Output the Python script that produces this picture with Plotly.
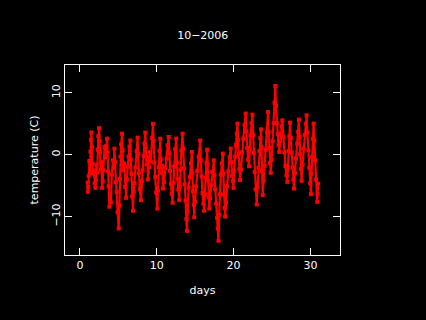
import plotly.graph_objects as go

title_text = "10\u22122006"
x_label = "days"
y_label = "temperature (C)"
x_ticks = [0, 10, 20, 30]
y_ticks = [-10, 0, 10]
y_tick_labels = ["\u221210", "0", "10"]

days = [1.0, 1.03, 1.08, 1.15, 1.22, 1.3, 1.36, 1.42, 1.47, 1.55, 1.62, 1.68, 1.8, 1.9, 2.0,
        2.08, 2.15, 2.24, 2.3, 2.38, 2.49, 2.56, 2.62, 2.7, 2.78, 2.88, 2.96, 3.05, 3.2, 3.3, 3.42, 3.53,
        3.6, 3.66, 3.72, 3.83, 3.9, 4.02, 4.15, 4.3, 4.4, 4.48, 4.56, 4.66, 4.78, 4.9, 5.04,
        5.12, 5.2, 5.28, 5.36, 5.47, 5.55, 5.63, 5.75, 5.88, 6.0, 6.1, 6.2, 6.32, 6.45, 6.56,
        6.62, 6.7, 6.8, 6.9, 7.0, 7.1, 7.22, 7.38, 7.5, 7.58, 7.66, 7.78, 7.94, 8.05, 8.15, 8.28, 8.4, 8.5,
        8.58, 8.66, 8.76, 8.85, 8.98, 9.1, 9.22, 9.36, 9.5, 9.58, 9.68, 9.8, 9.92, 10.07,
        10.15, 10.25, 10.35, 10.45, 10.52, 10.62, 10.7, 10.8, 10.95, 11.1, 11.28, 11.42, 11.54,
        11.62, 11.72, 11.84, 11.95, 12.06, 12.16, 12.26, 12.4, 12.53, 12.6, 12.7, 12.8, 12.92,
        13.0, 13.08, 13.2, 13.35, 13.42, 13.52, 13.62, 13.74, 13.85, 13.92, 14.02, 14.15, 14.3, 14.45, 14.57,
        14.63, 14.7, 14.8, 14.87, 14.98, 15.12, 15.26, 15.45, 15.65, 15.72, 15.82, 15.95, 16.06, 16.17,
        16.26, 16.36, 16.46, 16.56, 16.62, 16.7, 16.76, 16.82, 16.95, 17.08, 17.22, 17.42,
        17.5, 17.6, 17.72, 17.85, 17.95, 18.03, 18.12, 18.22, 18.34, 18.48, 18.59, 18.66, 18.74, 18.82, 18.9,
        19.02, 19.14, 19.3, 19.48, 19.63, 19.7, 19.8, 19.9, 19.98, 20.08, 20.2, 20.32, 20.42, 20.5,
        20.58, 20.66, 20.75, 20.84, 20.96, 21.1, 21.26, 21.42, 21.58, 21.66, 21.76, 21.88, 22.01,
        22.1, 22.2, 22.34, 22.45, 22.54, 22.64, 22.74, 22.86, 23.01, 23.12, 23.24, 23.36, 23.48, 23.57,
        23.63, 23.7, 23.79, 23.9, 24.04, 24.18, 24.34, 24.48, 24.56, 24.64, 24.74, 24.83, 24.95, 25.08, 25.2, 25.32, 25.43,
        25.52, 25.62, 25.74, 25.84, 25.95, 26.05, 26.15, 26.26, 26.34, 26.46, 26.6, 26.74, 26.88, 26.99,
        27.08, 27.16, 27.26, 27.34, 27.44, 27.56, 27.68, 27.78, 27.86, 27.98, 28.12, 28.28, 28.4, 28.5,
        28.58, 28.66, 28.76, 28.85, 28.98, 29.12, 29.26, 29.4, 29.5, 29.6, 29.72, 29.84, 29.96, 30.07,
        30.14, 30.22, 30.32, 30.41, 30.5, 30.62, 30.74, 30.89, 30.94, 31.0]
temps = [-4.5, -6.0, -5.2, -3.4, -1.0, -3.0, 0.5, 2.4, 3.6, 1.2, -1.5, -3.0, -2.5, -4.6, -5.35,
         -4.1, -1.6, -2.9, 0.8, 3.0, 4.3, 2.2, 0.4, -2.4, -1.2, -5.35, -4.3, -2.5, 1.26, -0.4, 1.4, 2.6,
         0.3, -2.7, -5.1, -8.4, -6.6, -7.7, -3.2, -0.9, -2.1, 1.0, -1.2, -4.4, -6.0, -9.3, -11.9,
         -8.2, -3.9, -0.3, 1.7, 3.4, 0.7, -2.5, -1.4, -5.2, -6.96, -4.0, -1.9, -0.3, 1.3, 2.3,
         -0.8, -3.1, -6.7, -9.06, -6.0, -4.6, -2.0, 0.6, 2.77, 0.1, -3.0, -5.6, -7.34, -4.3, -2.5, -0.2, 1.8, 3.57,
         1.2, -1.6, -0.4, -4.0, -2.0, 0.4, -1.1, 2.7, 5.0, 2.2, -1.3, -3.6, -6.1, -8.7,
         -5.8, -2.0, 0.6, 2.6, -0.7, -2.9, -1.8, -5.46, -4.4, -2.1, -0.6, 1.5, 2.87,
         0.2, -2.6, -4.7, -6.3, -7.77, -4.6, -1.9, 0.9, 2.6, -1.3, -3.9, -5.6, -7.34,
         -5.2, -2.4, 0.7, 3.4, 1.0, -2.2, -4.8, -7.4, -10.4, -12.3, -9.2, -5.3, -3.6, -1.4, 0.45,
         -3.0, -5.9, -8.1, -10.1, -7.6, -5.1, -2.6, -0.3, 2.3, -0.9, -3.5, -6.2, -7.9, -9.06,
         -6.4, -3.7, -1.3, 0.83, -1.6, -4.2, -6.9, -8.7, -7.0, -4.9, -2.8, -0.89,
         -3.3, -5.6, -7.9, -10.2, -11.9, -13.9, -9.7, -6.4, -3.2, -1.4, 0.19, -3.1, -6.4, -8.6, -10.0,
         -7.7, -5.1, -2.7, -0.4, 1.0, -1.2, -3.4, -4.3, -5.35, -2.6, -0.3, 1.6, 3.4, 5.03,
         2.4, 0.1, -2.3, -4.1, -2.4, 0.4, 2.6, 4.8, 6.64, 3.8, 1.1, -0.8, -1.86,
         0.9, 3.1, 5.1, 6.48, 3.2, 0.3, -2.8, -5.6, -8.04, -5.3, -2.1, 0.6, 2.7, 4.11,
         1.2, -2.6, -6.53, -4.2, -1.8, 0.8, 3.6, 6.9, 3.7, 1.1, -1.3, -2.93, -0.8, 2.2, 5.1, 8.4, 11.1,
         7.9, 5.1, 3.3, 1.6, 0.45, 2.2, 3.4, 4.6, 5.56, 2.9, 0.4, -1.8, -3.3, -4.38,
         -2.0, 0.6, 3.0, 5.19, 2.7, 0.3, -2.1, -4.0, -5.46, -3.0, -0.6, 1.8, 3.7, 5.67,
         2.9, 0.1, -2.3, -4.22, -1.6, 1.0, 3.2, 5.0, 6.37, 3.6, 0.7, -2.1, -4.6, -6.37,
         -3.1, -0.4, 2.6, 5.03, 2.3, -0.9, -4.0, -7.61, -6.3, -4.65]

font = dict(family="DejaVu Sans", size=11, color="white")

fig = go.Figure(go.Scatter(x=days, y=temps, mode="lines+markers",
                           line=dict(color="#ff0000", width=2.2),
                           marker=dict(color="#ff0000", size=4, symbol="square"),
                           showlegend=False))

axis_common = dict(showgrid=False, zeroline=False, showline=True, linecolor="white", linewidth=1,
                   mirror="ticks", ticks="inside", ticklen=7, tickwidth=1, tickcolor="white",
                   tickfont=font)

fig.update_layout(
    width=426, height=320,
    paper_bgcolor="black", plot_bgcolor="black",
    margin=dict(l=64.5, r=85.7, t=64.5, b=64.5),
    font=font,
    title=dict(text=title_text, x=0.476, y=0.89, xanchor="center", yanchor="middle", font=font),
    xaxis=dict(range=[-1.95, 33.85], tickvals=x_ticks, tickmode="array",
               title=dict(text=x_label, font=font, standoff=15), **axis_common),
    yaxis=dict(range=[-16.2, 14.5], tickvals=y_ticks, ticktext=y_tick_labels, tickmode="array",
               tickangle=-90, title=dict(text=y_label, font=font, standoff=8), **axis_common),
)
assert len(days) == len(temps), (len(days), len(temps))
fig.write_html("out.html", config={"displayModeBar": False},
               post_script="document.body.style.margin='0';document.body.style.background='black';")
